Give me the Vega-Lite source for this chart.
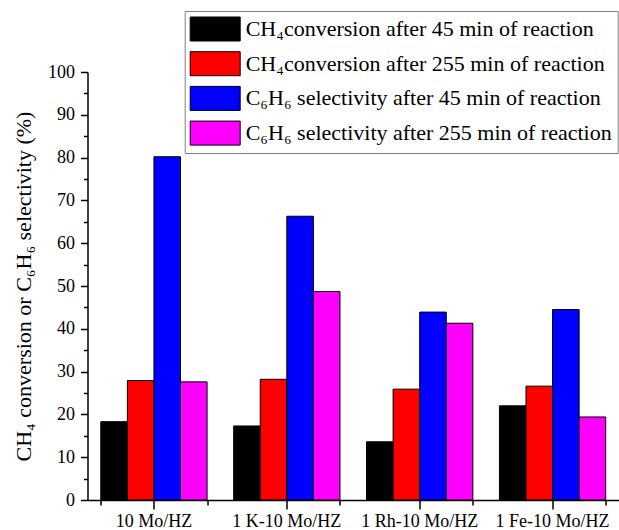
{
  "$schema": "https://vega.github.io/schema/vega-lite/v6.json",
  "width": 531.5,
  "height": 428,
  "autosize": {"type": "none"},
  "padding": {"left": 87.5, "top": 72, "right": 0, "bottom": 30},
  "background": "white",
  "config": {
    "view": {"stroke": null},
    "font": "Liberation Serif",
    "axis": {"labelFont": "Liberation Serif", "titleFont": "Liberation Serif"},
    "legend": {"labelFont": "Liberation Serif", "titleFont": "Liberation Serif"}
  },
  "data": {
    "values": [
      {"catalyst": "10 Mo/HZ", "series": "CH₄conversion after 45 min of reaction", "value": 18.3},
      {"catalyst": "10 Mo/HZ", "series": "CH₄conversion after 255 min of reaction", "value": 27.9},
      {"catalyst": "10 Mo/HZ", "series": "C₆H₆ selectivity after 45 min of reaction", "value": 80.2},
      {"catalyst": "10 Mo/HZ", "series": "C₆H₆ selectivity after 255 min of reaction", "value": 27.6},
      {"catalyst": "1 K-10 Mo/HZ", "series": "CH₄conversion after 45 min of reaction", "value": 17.3},
      {"catalyst": "1 K-10 Mo/HZ", "series": "CH₄conversion after 255 min of reaction", "value": 28.2},
      {"catalyst": "1 K-10 Mo/HZ", "series": "C₆H₆ selectivity after 45 min of reaction", "value": 66.3},
      {"catalyst": "1 K-10 Mo/HZ", "series": "C₆H₆ selectivity after 255 min of reaction", "value": 48.7},
      {"catalyst": "1 Rh-10 Mo/HZ", "series": "CH₄conversion after 45 min of reaction", "value": 13.6},
      {"catalyst": "1 Rh-10 Mo/HZ", "series": "CH₄conversion after 255 min of reaction", "value": 25.9},
      {"catalyst": "1 Rh-10 Mo/HZ", "series": "C₆H₆ selectivity after 45 min of reaction", "value": 43.9},
      {"catalyst": "1 Rh-10 Mo/HZ", "series": "C₆H₆ selectivity after 255 min of reaction", "value": 41.3},
      {"catalyst": "1 Fe-10 Mo/HZ", "series": "CH₄conversion after 45 min of reaction", "value": 22.0},
      {"catalyst": "1 Fe-10 Mo/HZ", "series": "CH₄conversion after 255 min of reaction", "value": 26.6},
      {"catalyst": "1 Fe-10 Mo/HZ", "series": "C₆H₆ selectivity after 45 min of reaction", "value": 44.5},
      {"catalyst": "1 Fe-10 Mo/HZ", "series": "C₆H₆ selectivity after 255 min of reaction", "value": 19.4}
    ]
  },
  "layer": [
    {
      "mark": {"type": "bar", "stroke": "black", "strokeWidth": 1},
      "encoding": {
        "x": {
          "field": "catalyst", "type": "nominal",
          "sort": ["10 Mo/HZ", "1 K-10 Mo/HZ", "1 Rh-10 Mo/HZ", "1 Fe-10 Mo/HZ"],
          "scale": {"paddingInner": 0.2, "paddingOuter": 0.1},
          "axis": {
            "title": null, "orient": "bottom", "labelAngle": 0,
            "labelFont": "Liberation Serif", "labelFontSize": 18, "labelColor": "black", "labelPadding": 3,
            "tickSize": 9, "tickColor": "black", "tickWidth": 1.5,
            "domainColor": "black", "domainWidth": 1.5, "grid": false
          }
        },
        "xOffset": {
          "field": "series", "type": "nominal",
          "sort": ["CH₄conversion after 45 min of reaction", "CH₄conversion after 255 min of reaction", "C₆H₆ selectivity after 45 min of reaction", "C₆H₆ selectivity after 255 min of reaction"],
          "scale": {"paddingInner": 0, "paddingOuter": 0}
        },
        "y": {
          "field": "value", "type": "quantitative",
          "scale": {"domain": [0, 100], "nice": false},
          "axis": {
            "title": "CH₄ conversion or C₆H₆ selectivity (%)",
            "titleFont": "Liberation Serif", "titleFontSize": 22, "titleFontWeight": "normal", "titleColor": "black", "titlePadding": 12,
            "values": [0, 5, 10, 15, 20, 25, 30, 35, 40, 45, 50, 55, 60, 65, 70, 75, 80, 85, 90, 95, 100],
            "labelExpr": "datum.value % 10 === 0 ? datum.label : ''",
            "labelFont": "Liberation Serif", "labelFontSize": 18, "labelColor": "black", "labelPadding": 6,
            "tickSize": {"condition": {"test": "datum.value % 10 === 0", "value": 7}, "value": 4},
            "tickColor": "black", "tickWidth": 1.5,
            "domainColor": "black", "domainWidth": 1.5, "grid": false
          }
        },
        "color": {
          "field": "series", "type": "nominal",
          "scale": {
            "domain": ["CH₄conversion after 45 min of reaction", "CH₄conversion after 255 min of reaction", "C₆H₆ selectivity after 45 min of reaction", "C₆H₆ selectivity after 255 min of reaction"],
            "range": ["#000000", "#ff0000", "#0000ff", "#ff00ff"]
          },
          "legend": {
            "orient": "none", "legendX": 97.2, "legendY": -61, "title": null,
            "symbolType": "M-1,-0.96H3V0.96H-1Z", "symbolSize": 625,
            "symbolStrokeColor": "black", "symbolStrokeWidth": 1, "symbolOpacity": 1,
            "labelFont": "Liberation Serif", "labelFontSize": 22, "labelColor": "black", "labelOffset": 30, "labelLimit": 1000,
            "rowPadding": 6.7, "padding": 5,
            "strokeColor": "#808080", "fillColor": "white"
          }
        }
      }
    },
    {
      "mark": {"type": "rule", "opacity": 0},
      "encoding": {
        "x": {
          "field": "catalyst", "type": "nominal",
          "sort": ["10 Mo/HZ", "1 K-10 Mo/HZ", "1 Rh-10 Mo/HZ", "1 Fe-10 Mo/HZ"],
          "axis": {
            "title": null, "orient": "bottom", "labels": false, "domain": false,
            "tickBand": "extent", "tickSize": 5, "tickColor": "black", "tickWidth": 1.5, "grid": false
          }
        }
      }
    }
  ],
  "resolve": {"axis": {"x": "independent"}}
}
